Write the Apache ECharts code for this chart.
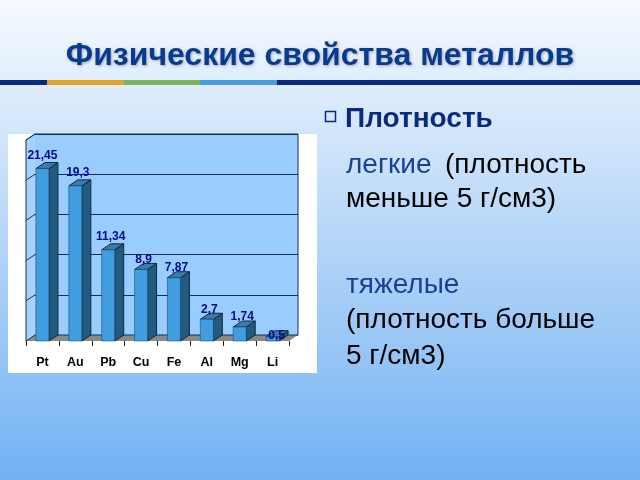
<!DOCTYPE html>
<html><head><meta charset="utf-8">
<style>html,body{margin:0;padding:0}#c{width:640px;height:480px}</style>
<script src="https://cdn.jsdelivr.net/npm/echarts@6/dist/echarts.min.js"></script>
</head><body><div id="c"></div>
<script>
const categories = ['Pt','Au','Pb','Cu','Fe','Al','Mg','Li'];
const densities = [21.45,19.3,11.34,8.9,7.87,2.7,1.74,0.53];
const valueLabels = ['21,45','19,3','11,34','8,9','7,87','2,7','1,74','0,5'];
const yTicks = [0,5,10,15,20,25];
const titleText = 'Физические свойства металлов';

const DX = 9, DY = -6, EDGE = '#14304e';
const chart = echarts.init(document.getElementById('c'), null, {renderer:'canvas'});
const shape = p => ({points:p});
const seg = (x1,y1,x2,y2,c=EDGE) => ({type:'line',shape:{x1,y1,x2,y2},style:{stroke:c,lineWidth:1}});

function wallItem(params, api){
  const a = api.coord([0,0]), b = api.coord([0,25]);
  const band = api.size([1,0])[0];
  const x0 = a[0]-band/2, x1 = a[0]+band*7.5;
  const y0 = a[1], yt = b[1];
  return {type:'group',children:[
    {type:'polygon',shape:shape([[x0,y0],[x0+DX,y0+DY],[x0+DX,yt+DY],[x0,yt]]),style:{fill:'#a6d2ff'}},
    {type:'polygon',shape:shape([[x0,y0],[x0+DX,y0+DY],[x1+DX,y0+DY],[x1,y0]]),style:{fill:'#8a8a86'}},
    seg(x0+DX,yt+DY,x1+DX,yt+DY),
    seg(x1+DX,yt+DY,x1+DX,y0+DY),
    seg(x0+DX,y0+DY,x1+DX,y0+DY),
    seg(x0,yt,x0+DX,yt+DY),
    seg(x0,y0,x0,yt)
  ]};
}
function tickItem(params, api){
  const p = api.coord([0,api.value(0)]);
  const band = api.size([1,0])[0];
  const x0 = p[0]-band/2;
  return seg(x0,p[1],x0+DX,p[1]+DY);
}
function barItem(params, api){
  const c = api.coord([api.value(0),api.value(1)]);
  const b = api.coord([api.value(0),0]);
  const w = 13, l = c[0]-w/2, r = c[0]+w/2, t = c[1], y0 = b[1];
  const s = {stroke:'#12283c',lineWidth:1};
  return {type:'group',children:[
    {type:'polygon',shape:shape([[r,t],[r+DX,t+DY],[r+DX,y0+DY],[r,y0]]),style:{fill:'#235a80',...s}},
    {type:'polygon',shape:shape([[l,t],[l+DX,t+DY],[r+DX,t+DY],[r,t]]),style:{fill:'#3a7dab',...s}},
    {type:'rect',shape:{x:l,y:t,width:w,height:y0-t},style:{fill:'#3f9de0',stroke:'#1d4f78',lineWidth:0.6}},
  ]};
}
const labelItem = (params, api) => {
  const v = api.value(1);
  const c = api.coord([api.value(0),v]);
  const dy = v < 1 ? -1 : (v >= 10 ? -13 : -10);
  const dx = v < 1 ? 4 : (v > 20 ? 0 : 2.5);
  return {type:'text',x:c[0]+dx,y:c[1]+dy,style:{text:valueLabels[params.dataIndex],fill:'#000a8c',
    font:'bold 12px "Liberation Sans", Arial',align:'center',verticalAlign:'middle'},z2:100};
};

const BODY = '28px "Liberation Sans", Arial';
chart.setOption({
  animation:false,
  backgroundColor:{type:'linear',x:0,y:0,x2:0,y2:1,colorStops:[
    {offset:0,color:'#f6faff'},{offset:0.27,color:'#d3e6fb'},{offset:0.78,color:'#90c2f5'},{offset:1,color:'#72b1f4'}]},
  title:{text:titleText,left:315,top:35,textAlign:'center',
    textStyle:{fontFamily:'"Liberation Sans", Arial',fontWeight:'bold',fontSize:32,color:'#0a3a8c',
      textShadowColor:'rgba(60,80,120,0.45)',textShadowBlur:3,textShadowOffsetX:1,textShadowOffsetY:1}},
  graphic:[
    {type:'rect',z:-10,shape:{x:8,y:134,width:309,height:239},style:{fill:'#ffffff'}},
    {type:'rect',z:1,shape:{x:0,y:80,width:640,height:5},style:{fill:'#0a2a80'}},
    {type:'rect',z:1,shape:{x:47,y:80,width:77,height:5},style:{fill:'#e0a526'}},
    {type:'rect',z:1,shape:{x:124,y:80,width:76,height:5},style:{fill:'#78b45e'}},
    {type:'rect',z:1,shape:{x:200,y:80,width:77,height:5},style:{fill:'#459dde'}},
    {type:'rect',z:1,shape:{x:325.5,y:111.5,width:10,height:10},style:{fill:'none',stroke:'#0a2a80',lineWidth:1.5}},
    {type:'text',z:1,x:345,y:105,style:{text:'Плотность',font:'bold 28px "Liberation Sans", Arial',fill:'#0a2a80'}},
    {type:'text',z:1,x:346,y:151,style:{text:'легкие',font:BODY,fill:'#1a3f96'}},
    {type:'text',z:1,x:445,y:151,style:{text:'(плотность',font:BODY,fill:'#000'}},
    {type:'text',z:1,x:346,y:185,style:{text:'меньше 5 г/см3)',font:BODY,fill:'#000'}},
    {type:'text',z:1,x:346,y:271,style:{text:'тяжелые',font:BODY,fill:'#1a3f96'}},
    {type:'text',z:1,x:346,y:306,style:{text:'(плотность больше',font:BODY,fill:'#000'}},
    {type:'text',z:1,x:346,y:342,style:{text:'5 г/см3)',font:BODY,fill:'#000'}}
  ],
  grid:[
    {left:26,top:140,width:263,height:201,show:false},
    {left:35,top:134,width:263,height:201,show:true,backgroundColor:'#99ccff',borderWidth:0}
  ],
  xAxis:[
    {type:'category',gridIndex:0,data:categories,
      axisLine:{show:false},
      axisTick:{show:true,length:5,alignWithLabel:false,lineStyle:{color:'#222'}},
      axisLabel:{color:'#000',fontWeight:'bold',fontSize:12.5,fontFamily:'"Liberation Sans", Arial',margin:15}},
    {type:'category',gridIndex:1,data:categories,show:false}
  ],
  yAxis:[
    {type:'value',gridIndex:0,min:0,max:25,interval:5,
      axisLine:{show:false},axisTick:{show:false},axisLabel:{show:false},splitLine:{show:false}},
    {type:'value',gridIndex:1,min:0,max:25,interval:5,
      axisLine:{show:false},axisTick:{show:false},axisLabel:{show:false},
      splitLine:{show:true,lineStyle:{color:EDGE,width:1}}}
  ],
  series:[
    {type:'custom',name:'walls',xAxisIndex:0,yAxisIndex:0,z:2,data:[[0]],renderItem:wallItem,silent:true},
    {type:'custom',name:'ticks',xAxisIndex:0,yAxisIndex:0,z:3,data:yTicks.map(v=>[v]),renderItem:tickItem,silent:true},
    {type:'custom',name:'bars',xAxisIndex:0,yAxisIndex:0,z:4,data:densities.map((v,i)=>[i,v]),renderItem:barItem,silent:true},
    {type:'custom',name:'labels',xAxisIndex:0,yAxisIndex:0,z:5,data:densities.map((v,i)=>[i,v]),renderItem:labelItem,silent:true}
  ]
});
</script></body></html>
